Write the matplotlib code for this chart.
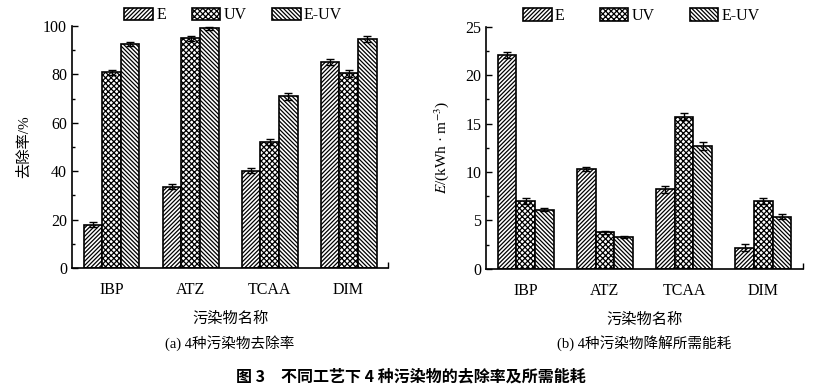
import matplotlib.pyplot as plt
import numpy as np

plt.rcParams['font.family'] = ['Liberation Serif', 'Noto Sans CJK SC']
plt.rcParams['mathtext.fontset'] = 'stix'
plt.rcParams['hatch.linewidth'] = 0.9

# Data
pollutants = ['IBP', 'ATZ', 'TCAA', 'DIM']
series = ['E', 'UV', 'E-UV']

removal_E = [18.0, 33.7, 40.3, 85.2]
removal_UV = [80.8, 95.0, 52.0, 80.5]
removal_EUV = [92.5, 99.0, 71.0, 94.5]
removal_E_err = [1.0, 1.0, 1.0, 1.2]
removal_UV_err = [1.2, 1.0, 1.2, 1.5]
removal_EUV_err = [0.9, 0.5, 1.5, 1.3]

energy_E = [22.1, 10.3, 8.2, 2.2]
energy_UV = [7.0, 3.8, 15.7, 7.0]
energy_EUV = [6.1, 3.3, 12.7, 5.4]
energy_E_err = [0.3, 0.2, 0.35, 0.35]
energy_UV_err = [0.35, 0.15, 0.35, 0.3]
energy_EUV_err = [0.15, 0.1, 0.4, 0.3]

hatches = ['/' * 8, 'x' * 6, '\\' * 8]

fig = plt.figure(figsize=(8.21, 3.88), dpi=100)
ax1 = fig.add_axes([0.0877, 0.309, 0.385, 0.624])
ax2 = fig.add_axes([0.592, 0.307, 0.386, 0.624])


def draw(ax, vals, errs, ymax, major, minor, ylabel, sub, pad, leg_x, colsp):
    x = np.arange(len(pollutants))
    w = 0.236
    for i, (v, e) in enumerate(zip(vals, errs)):
        ax.bar(x + (i - 1) * w, v, width=w, color='white', edgecolor='black',
               linewidth=1.2, hatch=hatches[i], label=series[i],
               yerr=e, capsize=3, error_kw=dict(elinewidth=1, capthick=1, ecolor='black'))
    ax.set_xlim(-0.5, 3.5)
    ax.set_ylim(0, ymax)
    ax.set_xticks(x)
    ax.set_xticklabels(pollutants, fontsize=11.5)
    ax.tick_params(axis='x', length=0, pad=10)
    ax.set_xticks([3.5], minor=True)
    ax.tick_params(axis='x', which='minor', direction='in', length=4, width=1)
    ax.set_yticks(np.arange(0, ymax + 0.01, major))
    ax.set_yticks(np.arange(0, ymax + 0.01, minor), minor=True)
    ax.tick_params(axis='y', which='major', direction='in', length=4, width=1, labelsize=11.5)
    ax.tick_params(axis='y', which='minor', direction='in', length=2, width=1)
    for s in ['top', 'right']:
        ax.spines[s].set_visible(False)
    for s in ['left', 'bottom']:
        ax.spines[s].set_linewidth(1.2)
    ax.set_ylabel(ylabel, fontsize=11, labelpad=pad)
    ax.set_xlabel('污染物名称', fontsize=11, labelpad=10)
    ax.text(0.5, -0.275, sub, transform=ax.transAxes, ha='center', va='top', fontsize=10.5)
    ax.legend(loc='lower center', bbox_to_anchor=(leg_x, 0.985), ncol=3, frameon=False,
              fontsize=11.5, handlelength=1.8, handleheight=0.8, handletextpad=0.2,
              columnspacing=colsp, borderaxespad=0)


draw(ax1, [removal_E, removal_UV, removal_EUV],
     [removal_E_err, removal_UV_err, removal_EUV_err],
     100, 20, 10, '去除率/%', '(a) 4种污染物去除率', 9, 0.51, 1.6)
draw(ax2, [energy_E, energy_UV, energy_EUV],
     [energy_E_err, energy_UV_err, energy_EUV_err],
     25, 5, 2.5, r'$\mathit{E}$/(kWh · m$^{-3}$)', '(b) 4种污染物降解所需能耗', 10, 0.49, 2.2)

fig.text(0.5, 0.03, '图 3　不同工艺下 4 种污染物的去除率及所需能耗', ha='center', va='center',
         fontsize=11.5, fontweight='bold', family=['Noto Sans CJK SC', 'DejaVu Sans'])

fig.savefig('out.png', dpi=100)
